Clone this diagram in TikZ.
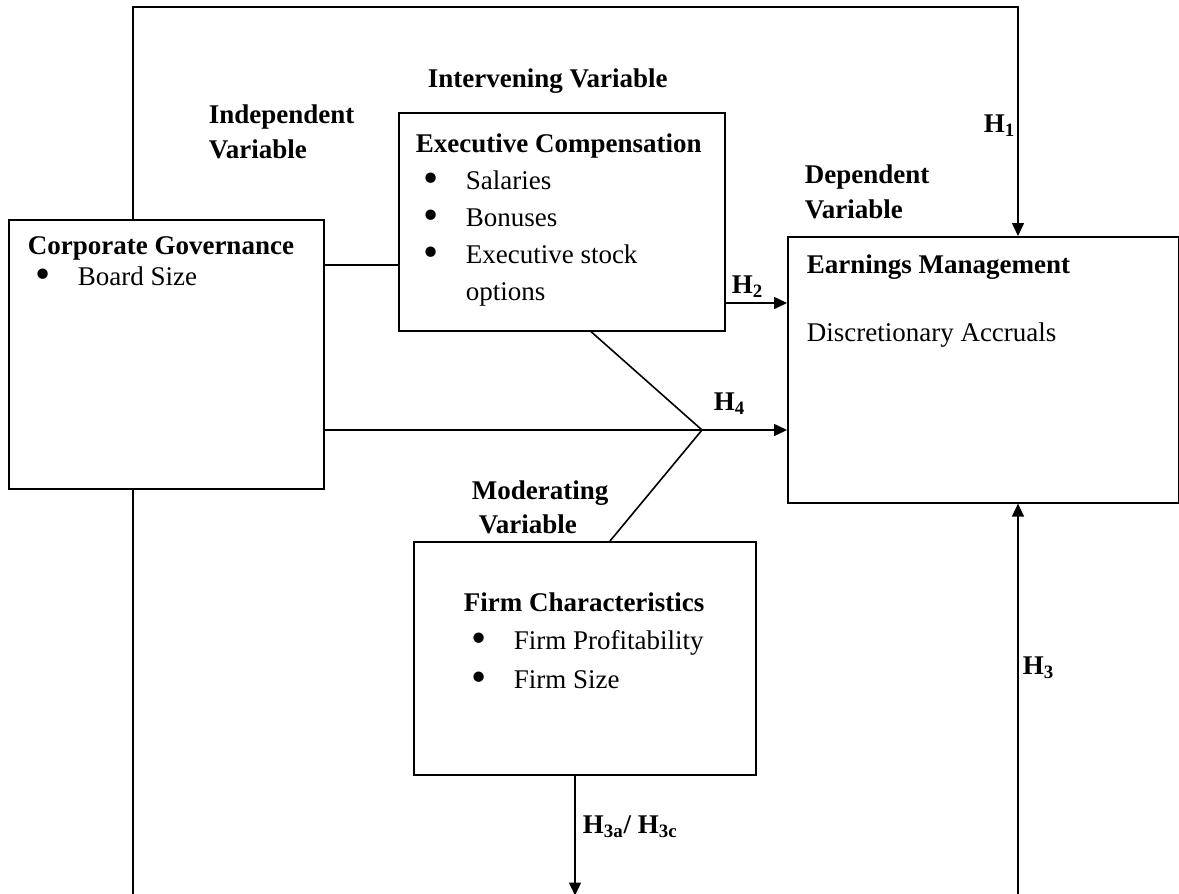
\documentclass[tikz,border=0pt]{standalone}
\usepackage{fontspec}
\usepackage{graphicx}
\setmainfont{Liberation Serif}
\usetikzlibrary{arrows.meta}

\newcommand{\bitem}[1]{\hspace*{7.5pt}\makebox[0pt]{\smash{\raisebox{-1.6pt}{\scalebox{1.6}{\textbullet}}}}\hspace*{17.5pt}#1}
\newcommand{\hyp}[1]{\textbf{H\textsubscript{#1}}}

\begin{document}
\begin{tikzpicture}[x=0.5pt,y=-0.5pt,line width=0.8pt,
    >={Triangle[length=6.5pt,width=6pt]},
    every node/.style={font=\fontsize{13.5}{17.5}\selectfont},
    varbox/.style={draw,rectangle,anchor=north west,inner sep=0pt},
    boxtext/.style={anchor=north west,inner sep=0pt,align=left},
    vlabel/.style={anchor=north west,inner sep=0pt,align=left,font=\fontsize{13.5}{17.5}\selectfont\bfseries},
    hyplabel/.style={anchor=base west,inner sep=0pt}]
      \clip (0,0) rectangle (1179,894);

      % boxes
      \node[varbox,minimum width=157.5pt,minimum height=134.5pt] (cg) at (8,219) {};
      \node[varbox,minimum width=163pt,minimum height=109pt] (ec) at (398,112) {};
      \node[varbox,minimum width=195.5pt,minimum height=133pt] (em) at (787,236) {};
      \node[varbox,minimum width=171pt,minimum height=116.5pt] (fc) at (413,541) {};

      \node[boxtext,font=\fontsize{13.5}{15.5}\selectfont] (cgtext) at ([shift={(19,16.5)}]cg.north west)
        {\textbf{Corporate Governance}\\\bitem{Board Size}};
      \node[boxtext,font=\fontsize{13.5}{18.6}\selectfont] (ectext) at ([shift={(17,20.5)}]ec.north west)
        {\textbf{Executive Compensation}\\\bitem{Salaries}\\\bitem{Bonuses}\\\bitem{Executive stock}\\\hspace*{25pt}options};
      \node[boxtext] (emtext) at ([shift={(19,17.5)}]em.north west)
        {\textbf{Earnings Management}\\[16.5pt]Discretionary Accruals};
      \node[boxtext,font=\fontsize{13.5}{19.25}\selectfont] (fctext) at ([shift={(50,50.5)}]fc.north west)
        {\textbf{Firm Characteristics}\\\bitem{Firm Profitability}\\\bitem{Firm Size}};

      % variable labels
      \node[vlabel] (indep) at (208,103.5) {Independent\\Variable};
      \node[hyplabel,font=\fontsize{13.5}{17.5}\selectfont\bfseries] (interv) at (427,87) {Intervening Variable};
      \node[vlabel] (dep) at (804,163.5) {Dependent\\Variable};
      \node[vlabel,font=\fontsize{13.5}{17}\selectfont\bfseries] (moder) at (471,479.5) {Moderating\\\hspace*{3.5pt}Variable};

      % hypotheses
      \node[hyplabel] (h1) at (983,132) {\hyp{1}};
      \node[hyplabel] (h2) at (731,293) {\hyp{2}};
      \node[hyplabel] (h4) at (713,410) {\hyp{4}};
      \node[hyplabel] (h3) at (1022,674) {\hyp{3}};
      \node[hyplabel] (h3ac) at (582,833) {\textbf{H\textsubscript{3a}/ H\textsubscript{3c}}};

      \coordinate (topL) at (133,7);
      \coordinate (topR) at (1018,7);
      \coordinate (botL) at (133,895.5);
      \coordinate (botR) at (1018,895.5);
      \coordinate (lnk) at (360,265);
      \coordinate (h2y) at (750,303);
      \coordinate (joint) at (702,430);
      \coordinate (ecfoot) at (591,330);
      \coordinate (fchead) at (610,541);
      \coordinate (fcout) at (575,895.5);

      \draw[->] (cg.north -| topL) -- (topL) -- (topR) -- (em.north -| topR);
      \draw[->] (cg.south -| botL) -- (botL) -- (botR) -- (em.south -| botR);
      \draw (cg.east |- lnk) -- (ec.west |- lnk);
      \draw[->] (ec.east |- h2y) -- (em.west |- h2y);
      \draw[->] (cg.east |- joint) -- (em.west |- joint);
      \draw (ec.south -| ecfoot) -- (joint) -- (fc.north -| fchead);
      \draw[->] (fc.south -| fcout) -- (fcout);
    \end{tikzpicture}
\end{document}
